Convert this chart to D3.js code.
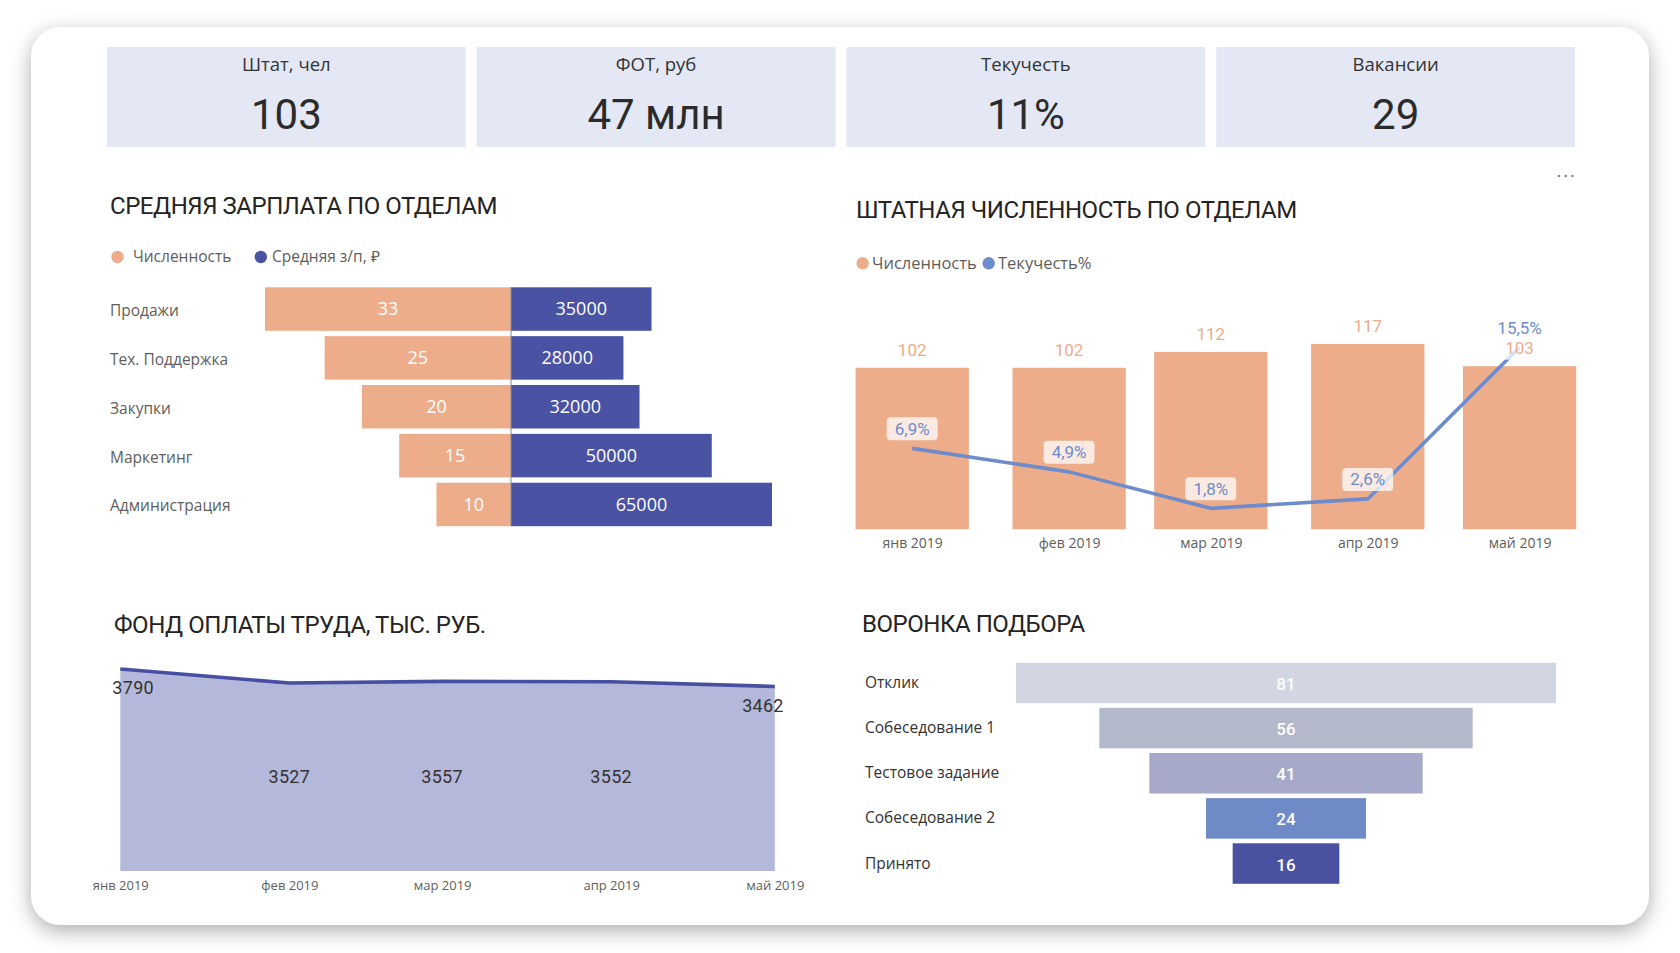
<!DOCTYPE html>
<html><head><meta charset="utf-8">
<script src="https://cdn.jsdelivr.net/npm/d3@7"></script>
<style>html,body{margin:0;padding:0;background:#fff;overflow:hidden}</style>
</head><body>
<svg id="c" width="1680" height="953"></svg>
<script>
// ---------- DATA ----------
const kpiLabels = ["Штат, чел", "ФОТ, руб", "Текучесть", "Вакансии"];
const kpiValues = ["103", "47 млн", "11%", "29"];

const depts = ["Продажи", "Тех. Поддержка", "Закупки", "Маркетинг", "Администрация"];
const deptHeadcount = [33, 25, 20, 15, 10];
const deptSalary = [35000, 28000, 32000, 50000, 65000];

const months = ["2019-01-01", "2019-02-01", "2019-03-01", "2019-04-01", "2019-05-01"];
const monthLabels = ["янв 2019", "фев 2019", "мар 2019", "апр 2019", "май 2019"];
const staffCount = [102, 102, 112, 117, 103];
const turnoverPct = [6.9, 4.9, 1.8, 2.6, 15.5];

const payroll = [3790, 3527, 3557, 3552, 3462];

const stages = ["Отклик", "Собеседование 1", "Тестовое задание", "Собеседование 2", "Принято"];
const candidates = [81, 56, 41, 24, 16];

// ---------- STYLE ----------
const SALMON = "#EDAD8A", NAVY = "#4A52A3", STEEL = "#6E8BCB";
const AREA_FILL = "#B4B8DA", AREA_LINE = "#464FA0";
const funnelColors = ["#D2D6E2", "#B3B8CB", "#A6A9C9", "#6E8AC7", "#4A51A1"];
const TXT = "#333", GRAY = "#605E5C";
const LBL = "'Open Sans', sans-serif", NUM = "Roboto, sans-serif";

const svg = d3.select("#c");
const parse = d3.timeParse("%Y-%m-%d");
const dates = months.map(parse);

// panel with shadow
const defs = svg.append("defs");
const f = defs.append("filter").attr("id", "sh").attr("x", "-5%").attr("y", "-5%").attr("width", "110%").attr("height", "115%");
f.append("feDropShadow").attr("dx", 0).attr("dy", 6).attr("stdDeviation", 10).attr("flood-color", "#000").attr("flood-opacity", 0.32);
svg.append("rect").attr("x", 31).attr("y", 27).attr("width", 1618).attr("height", 898)
  .attr("rx", 30).attr("fill", "#fff").attr("filter", "url(#sh)");

// ---------- KPI CARDS ----------
const kx = d3.scaleBand().domain(kpiLabels).range([107, 1575]).paddingInner(0.03);
const cards = svg.append("g").selectAll("g").data(kpiLabels).join("g")
  .attr("transform", d => `translate(${kx(d)},47)`);
cards.append("rect").attr("width", kx.bandwidth()).attr("height", 100).attr("fill", "#E3E8F4");
cards.append("text").attr("x", kx.bandwidth() / 2).attr("y", 18).attr("dy", "0.35em")
  .attr("text-anchor", "middle").attr("font-family", LBL).attr("font-size", 18.5).attr("fill", TXT)
  .text(d => d);
cards.append("text").attr("x", kx.bandwidth() / 2).attr("y", 67).attr("dy", "0.36em")
  .attr("text-anchor", "middle").attr("font-family", NUM).attr("font-size", 42).attr("fill", "#2b2b2b")
  .text((d, i) => kpiValues[i]);

// titles
function title(x, y, t) {
  svg.append("text").attr("x", x).attr("y", y).attr("font-family", NUM).attr("font-size", 24)
    .attr("letter-spacing", -0.45).attr("fill", "#252423").text(t);
}
title(110, 214, "СРЕДНЯЯ ЗАРПЛАТА ПО ОТДЕЛАМ");
title(856, 218, "ШТАТНАЯ ЧИСЛЕННОСТЬ ПО ОТДЕЛАМ");
title(114, 633, "ФОНД ОПЛАТЫ ТРУДА, ТЫС. РУБ.");
title(862, 632, "ВОРОНКА ПОДБОРА");

// more-options dots
svg.append("g").selectAll("circle").data([0, 1, 2]).join("circle")
  .attr("cx", d => 1559 + d * 6.7).attr("cy", 176).attr("r", 1.3).attr("fill", "#888");

function legend(items, y, fs) {
  const g = svg.append("g");
  items.forEach(it => {
    g.append("circle").attr("cx", it.cx).attr("cy", y).attr("r", 6.2).attr("fill", it.color);
    g.append("text").attr("x", it.tx).attr("y", y).attr("dy", "0.35em").attr("font-family", LBL)
      .attr("font-size", fs).attr("fill", GRAY).text(it.label);
  });
}

// ---------- CHART 1: butterfly ----------
{
  const center = 511;
  const y = d3.scaleBand().domain(depts).range([287.3, 526.2]).paddingInner(0.11);
  const xL = d3.scaleLinear().domain([0, d3.max(deptHeadcount)]).range([center, 265]);
  const xR = d3.scaleLinear().domain([0, d3.max(deptSalary)]).range([center, 772]);
  legend([{ cx: 117.5, tx: 133, color: SALMON, label: "Численность" },
          { cx: 260.8, tx: 272, color: NAVY, label: "Средняя з/п, ₽" }], 257, 15.5);
  const g = svg.append("g");
  g.selectAll(".l").data(depts).join("rect")
    .attr("x", (d, i) => xL(deptHeadcount[i])).attr("y", d => y(d))
    .attr("width", (d, i) => center - xL(deptHeadcount[i])).attr("height", y.bandwidth()).attr("fill", SALMON);
  g.selectAll(".r").data(depts).join("rect")
    .attr("x", center).attr("y", d => y(d))
    .attr("width", (d, i) => xR(deptSalary[i]) - center).attr("height", y.bandwidth()).attr("fill", NAVY);
  g.append("line").attr("x1", center).attr("x2", center).attr("y1", y.range()[0]).attr("y2", y.range()[1])
    .attr("stroke", "#8a8a8a").attr("stroke-width", 1);
  g.selectAll(".lt").data(depts).join("text")
    .attr("x", (d, i) => (xL(deptHeadcount[i]) + center) / 2).attr("y", d => y(d) + y.bandwidth() / 2)
    .attr("dy", "0.35em").attr("text-anchor", "middle").attr("font-family", LBL).attr("font-size", 18)
    .attr("fill", "#fff").text((d, i) => deptHeadcount[i]);
  g.selectAll(".rt").data(depts).join("text")
    .attr("x", (d, i) => (xR(deptSalary[i]) + center) / 2).attr("y", d => y(d) + y.bandwidth() / 2)
    .attr("dy", "0.35em").attr("text-anchor", "middle").attr("font-family", LBL).attr("font-size", 18)
    .attr("fill", "#fff").text((d, i) => deptSalary[i]);
  const ax = d3.axisLeft(y).tickSize(0).tickPadding(0);
  const ag = svg.append("g").attr("transform", "translate(110,2)").call(ax);
  ag.select(".domain").remove();
  ag.selectAll("text").attr("text-anchor", "start").attr("font-family", LBL).attr("font-size", 15.5).attr("fill", GRAY);
}

// ---------- CHART 2: combo ----------
{
  const x = d3.scaleTime().domain([dates[0], dates[4]]).range([912.2, 1519.6]);
  const y = d3.scaleLinear().domain([0, d3.max(staffCount)]).range([529.3, 344]);
  const y2 = d3.scaleLinear().domain([0, 15.5]).range([529.5, 347.2]);
  const bw = 113.3;
  legend([{ cx: 862.7, tx: 872, color: SALMON, label: "Численность" },
          { cx: 988.7, tx: 998, color: STEEL, label: "Текучесть%" }], 263.3, 16.5);
  const g = svg.append("g");
  g.selectAll("rect.b").data(dates).join("rect").attr("class", "b")
    .attr("x", d => x(d) - bw / 2).attr("y", (d, i) => y(staffCount[i]))
    .attr("width", bw).attr("height", (d, i) => y(0) - y(staffCount[i])).attr("fill", SALMON);
  const line = d3.line().x(d => x(d)).y((d, i) => y2(turnoverPct[i]));
  g.append("path").datum(dates).attr("d", line).attr("fill", "none").attr("stroke", STEEL)
    .attr("stroke-width", 3.6).attr("stroke-linejoin", "round");
  const fmt = v => String(v).replace(".", ",") + "%";
  function boxLabel(cx, cy, text, color) {
    const t = g.append("text").attr("x", cx).attr("y", cy).attr("dy", "0.35em").attr("text-anchor", "middle")
      .attr("font-family", NUM).attr("font-size", 17).attr("fill", color).text(text);
    const w = t.node().getComputedTextLength();
    g.insert("rect", () => t.node()).attr("x", cx - w / 2 - 8).attr("y", cy - 11.5).attr("width", w + 16)
      .attr("height", 23).attr("rx", 4).attr("fill", "#fff").attr("fill-opacity", 0.75);
  }
  dates.forEach((d, i) => boxLabel(x(d), y(staffCount[i]) - 18, staffCount[i], SALMON));
  dates.forEach((d, i) => boxLabel(x(d), y2(turnoverPct[i]) - 19.5, fmt(turnoverPct[i]), STEEL));
  const ax = d3.axisBottom(x).tickValues(dates).tickFormat((d, i) => monthLabels[i]).tickSize(0).tickPadding(0);
  const ag = svg.append("g").attr("transform", "translate(0,543.3)").call(ax);
  ag.select(".domain").remove();
  ag.selectAll("text").attr("dy", "0.35em").attr("font-family", LBL).attr("font-size", 14).attr("fill", GRAY);
}

// ---------- CHART 3: area ----------
{
  const x = d3.scaleTime().domain([dates[0], dates[4]]).range([120.3, 774.8]);
  const y = d3.scaleLinear().domain([0, d3.max(payroll)]).range([871, 669]);
  const g = svg.append("g");
  const area = d3.area().x(d => x(d)).y0(y(0)).y1((d, i) => y(payroll[i]));
  const line = d3.line().x(d => x(d)).y((d, i) => y(payroll[i]));
  g.append("path").datum(dates).attr("d", area).attr("fill", AREA_FILL);
  g.append("path").datum(dates).attr("d", line).attr("fill", "none").attr("stroke", AREA_LINE)
    .attr("stroke-width", 3.6).attr("stroke-linejoin", "round");
  const n = dates.length;
  g.selectAll("text.v").data(dates).join("text").attr("class", "v")
    .attr("x", (d, i) => x(d)).attr("y", (d, i) => (i === 0 || i === n - 1) ? y(payroll[i]) + 19 : (y(payroll[i]) + y(0)) / 2)
    .attr("dy", "0.35em")
    .attr("text-anchor", (d, i) => i === 0 ? "start" : i === n - 1 ? "end" : "middle")
    .attr("dx", (d, i) => i === 0 ? -8 : i === n - 1 ? 9 : 0)
    .attr("font-family", NUM).attr("font-size", 18).attr("letter-spacing", 0.3).attr("fill", "#333")
    .text((d, i) => payroll[i]);
  const ax = d3.axisBottom(x).tickValues(dates).tickFormat((d, i) => monthLabels[i]).tickSize(0).tickPadding(0);
  const ag = svg.append("g").attr("transform", "translate(0,885)").call(ax);
  ag.select(".domain").remove();
  ag.selectAll("text").attr("dy", "0.35em").attr("font-family", LBL).attr("font-size", 13).attr("fill", GRAY);
}

// ---------- CHART 4: funnel ----------
{
  const cx = 1286;
  const y = d3.scaleBand().domain(stages).range([662.7, 883.8]).paddingInner(0.103);
  const w = d3.scaleLinear().domain([0, d3.max(candidates)]).range([0, 540]);
  const g = svg.append("g");
  g.selectAll("rect").data(stages).join("rect")
    .attr("x", (d, i) => cx - w(candidates[i]) / 2).attr("y", d => y(d))
    .attr("width", (d, i) => w(candidates[i])).attr("height", y.bandwidth())
    .attr("fill", (d, i) => funnelColors[i]);
  g.selectAll("text.v").data(stages).join("text").attr("class", "v")
    .attr("x", cx).attr("y", d => y(d) + y.bandwidth() / 2 + 1).attr("dy", "0.35em").attr("text-anchor", "middle")
    .attr("font-family", NUM).attr("font-size", 17).attr("font-weight", 500).attr("fill", "#fff")
    .text((d, i) => candidates[i]);
  const ax = d3.axisLeft(y).tickSize(0).tickPadding(0);
  const ag = svg.append("g").attr("transform", "translate(865,0)").call(ax);
  ag.select(".domain").remove();
  ag.selectAll("text").attr("text-anchor", "start").attr("font-family", LBL).attr("font-size", 15.5).attr("fill", TXT);
}
</script>
</body></html>
